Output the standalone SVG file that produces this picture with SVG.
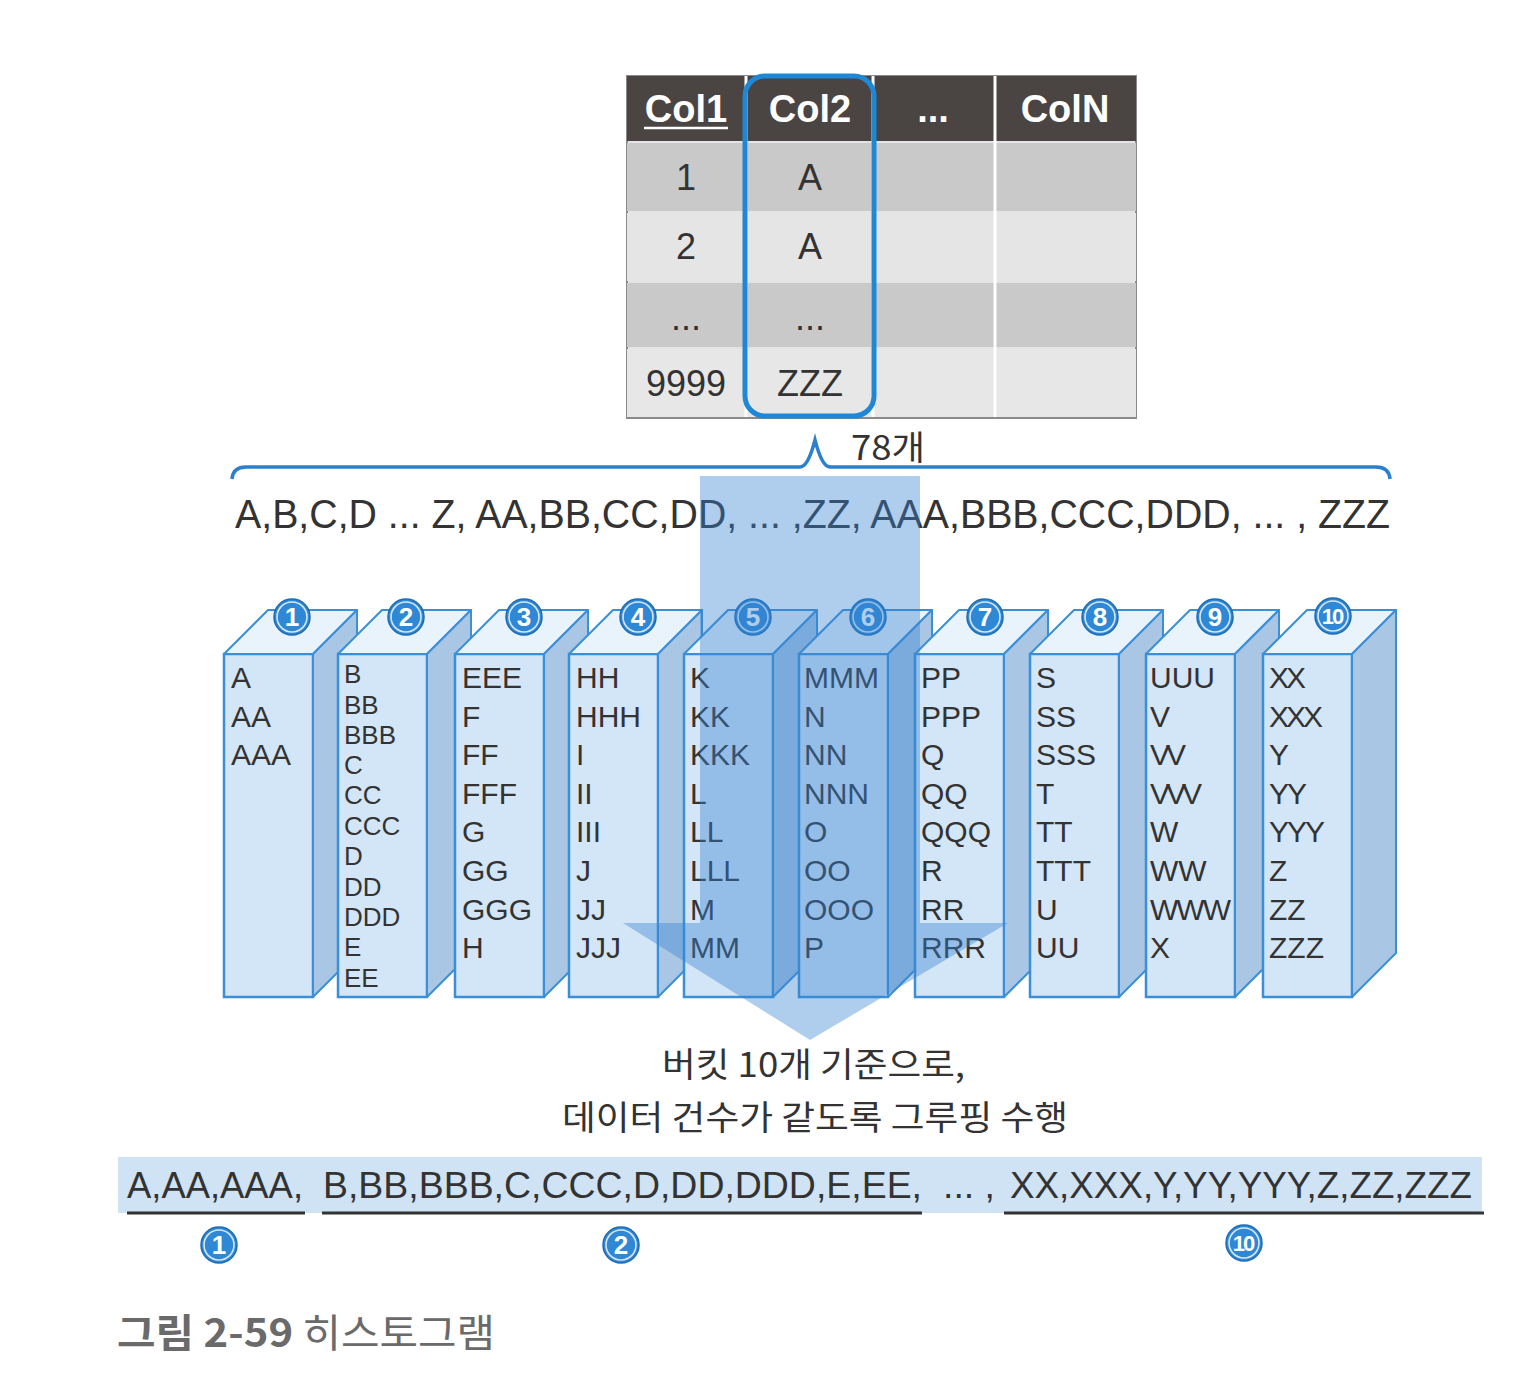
<svg xmlns="http://www.w3.org/2000/svg" width="1532" height="1374" viewBox="0 0 1532 1374">
<style>
.front{fill:#d3e6f7;stroke:#3b8fd8;stroke-width:2.5}
.top{fill:#e9f3fc;stroke:#3b8fd8;stroke-width:2;stroke-linejoin:round}
.side{fill:#a9c6e4;stroke:#3b8fd8;stroke-width:2;stroke-linejoin:round}
.bt{font-family:"Liberation Sans",Arial,sans-serif;font-size:30px;fill:#333}
.bs{font-family:"Liberation Sans",Arial,sans-serif;font-size:26px;fill:#333}
.num{font-family:"Liberation Sans",Arial,sans-serif;font-size:26px;font-weight:bold;fill:#fff;text-anchor:middle}
.num10{font-family:"Liberation Sans",Arial,sans-serif;font-size:22px;font-weight:bold;fill:#fff;text-anchor:middle;letter-spacing:-2px}
.cb{fill:#2f88d5;stroke:#1e6db4;stroke-width:1.5}
.cr{fill:none;stroke:#fff;stroke-width:1.6;stroke-opacity:0.8}
.hd{font-family:"Liberation Sans",Arial,sans-serif;font-size:38px;font-weight:bold;fill:#fff;text-anchor:middle}
.td{font-family:"Liberation Sans",Arial,sans-serif;font-size:36px;fill:#333;text-anchor:middle}
.kr{font-family:"Noto Sans CJK KR","Noto Sans",sans-serif;fill:#333}
.seq{font-family:"Liberation Sans",Arial,sans-serif;fill:#333}
</style>
<defs>
<g id="bucket">
<rect class="front" x="224" y="654" width="89" height="343"/>
<polygon class="top" points="224,654 268,610 357,610 313,654"/>
<polygon class="side" points="313,654 357,610 357,953 313,997"/>
</g>
<g id="badge">
<circle class="cb" cx="0" cy="0" r="18"/>
<circle class="cr" cx="0" cy="0" r="15"/>
</g>
</defs>
<rect width="1532" height="1374" fill="#fff"/>

<!-- Table -->
<g id="table">
<rect x="627" y="76" width="509" height="342" fill="#e4e4e4" stroke="#8a8a8a" stroke-width="2"/>
<rect x="627" y="76" width="509" height="65" fill="#4a4443"/>
<rect x="627" y="143" width="509" height="68" fill="#c9c9c9"/>
<rect x="627" y="213" width="509" height="68" fill="#e5e5e5"/>
<rect x="627" y="283" width="509" height="64" fill="#c9c9c9"/>
<rect x="627" y="349" width="509" height="68" fill="#e7e7e7"/>
<g stroke="#fff" stroke-width="3">
<line x1="746" y1="76" x2="746" y2="417"/>
<line x1="873" y1="76" x2="873" y2="417"/>
<line x1="995" y1="76" x2="995" y2="417"/>
</g>
<text class="hd" x="686" y="122">Col1</text>
<line x1="644" y1="128" x2="728" y2="128" stroke="#fff" stroke-width="2.5"/>
<text class="hd" x="810" y="122">Col2</text>
<text class="hd" x="933" y="122">...</text>
<text class="hd" x="1065" y="122">ColN</text>
<text class="td" x="686" y="190">1</text>
<text class="td" x="810" y="190">A</text>
<text class="td" x="686" y="259">2</text>
<text class="td" x="810" y="259">A</text>
<text class="td" x="686" y="330" font-size="26">...</text>
<text class="td" x="810" y="330" font-size="26">...</text>
<text class="td" x="686" y="396">9999</text>
<text class="td" x="810" y="396">ZZZ</text>
<rect x="745" y="76" width="129" height="340" rx="20" fill="none" stroke="#1e87d6" stroke-width="5"/>
</g>

<!-- Brace and sequence -->
<g id="brace">
<path d="M232,479 Q233,467 246,467 L800,467 Q808,467 815,440 Q822,467 830,467 L1376,467 Q1389,467 1390,479" fill="none" stroke="#2a7fcf" stroke-width="3.5"/>
<text class="kr" x="851" y="460" font-size="34" textLength="74" lengthAdjust="spacingAndGlyphs">78개</text>
</g>
<g id="sequence">
<text class="seq" x="235" y="528" font-size="41" textLength="1155" lengthAdjust="spacingAndGlyphs">A,B,C,D ... Z, AA,BB,CC,DD, ... ,ZZ, AAA,BBB,CCC,DDD, ... , ZZZ</text>
</g>

<!-- Buckets -->
<g id="bucket1">
<use href="#bucket"/>
<use href="#badge" x="292" y="617"/><text class="num" x="292" y="626">1</text>
<text class="bt" x="231" y="688">A</text>
<text class="bt" x="231" y="727">AA</text>
<text class="bt" x="231" y="765">AAA</text>
</g>
<g id="bucket2">
<use href="#bucket" transform="translate(114,0)"/>
<use href="#badge" x="406" y="617"/><text class="num" x="406" y="626">2</text>
<text class="bs" x="344" y="683">B</text>
<text class="bs" x="344" y="714">BB</text>
<text class="bs" x="344" y="744">BBB</text>
<text class="bs" x="344" y="774">C</text>
<text class="bs" x="344" y="804">CC</text>
<text class="bs" x="344" y="835">CCC</text>
<text class="bs" x="344" y="865">D</text>
<text class="bs" x="344" y="896">DD</text>
<text class="bs" x="344" y="926">DDD</text>
<text class="bs" x="344" y="956">E</text>
<text class="bs" x="344" y="987">EE</text>
</g>
<g id="bucket3">
<use href="#bucket" transform="translate(231,0)"/>
<use href="#badge" x="524" y="617"/><text class="num" x="524" y="626">3</text>
<text class="bt" x="462" y="688">EEE</text>
<text class="bt" x="462" y="727">F</text>
<text class="bt" x="462" y="765">FF</text>
<text class="bt" x="462" y="804">FFF</text>
<text class="bt" x="462" y="842">G</text>
<text class="bt" x="462" y="881">GG</text>
<text class="bt" x="462" y="920">GGG</text>
<text class="bt" x="462" y="958">H</text>
</g>
<g id="bucket4">
<use href="#bucket" transform="translate(345,0)"/>
<use href="#badge" x="638" y="617"/><text class="num" x="638" y="626">4</text>
<text class="bt" x="576" y="688">HH</text>
<text class="bt" x="576" y="727">HHH</text>
<text class="bt" x="576" y="765">I</text>
<text class="bt" x="576" y="804">II</text>
<text class="bt" x="576" y="842">III</text>
<text class="bt" x="576" y="881">J</text>
<text class="bt" x="576" y="920">JJ</text>
<text class="bt" x="576" y="958">JJJ</text>
</g>
<g id="bucket5">
<use href="#bucket" transform="translate(460,0)"/>
<use href="#badge" x="753" y="617"/><text class="num" x="753" y="626">5</text>
<text class="bt" x="690" y="688">K</text>
<text class="bt" x="690" y="727">KK</text>
<text class="bt" x="690" y="765">KKK</text>
<text class="bt" x="690" y="804">L</text>
<text class="bt" x="690" y="842">LL</text>
<text class="bt" x="690" y="881">LLL</text>
<text class="bt" x="690" y="920">M</text>
<text class="bt" x="690" y="958">MM</text>
</g>
<g id="bucket6">
<use href="#bucket" transform="translate(575,0)"/>
<use href="#badge" x="868" y="617"/><text class="num" x="868" y="626">6</text>
<text class="bt" x="804" y="688">MMM</text>
<text class="bt" x="804" y="727">N</text>
<text class="bt" x="804" y="765">NN</text>
<text class="bt" x="804" y="804">NNN</text>
<text class="bt" x="804" y="842">O</text>
<text class="bt" x="804" y="881">OO</text>
<text class="bt" x="804" y="920">OOO</text>
<text class="bt" x="804" y="958">P</text>
</g>
<g id="bucket7">
<use href="#bucket" transform="translate(691,0)"/>
<use href="#badge" x="985" y="617"/><text class="num" x="985" y="626">7</text>
<text class="bt" x="921" y="688">PP</text>
<text class="bt" x="921" y="727">PPP</text>
<text class="bt" x="921" y="765">Q</text>
<text class="bt" x="921" y="804">QQ</text>
<text class="bt" x="921" y="842">QQQ</text>
<text class="bt" x="921" y="881">R</text>
<text class="bt" x="921" y="920">RR</text>
<text class="bt" x="921" y="958">RRR</text>
</g>
<g id="bucket8">
<use href="#bucket" transform="translate(806,0)"/>
<use href="#badge" x="1100" y="617"/><text class="num" x="1100" y="626">8</text>
<text class="bt" x="1036" y="688">S</text>
<text class="bt" x="1036" y="727">SS</text>
<text class="bt" x="1036" y="765">SSS</text>
<text class="bt" x="1036" y="804">T</text>
<text class="bt" x="1036" y="842">TT</text>
<text class="bt" x="1036" y="881">TTT</text>
<text class="bt" x="1036" y="920">U</text>
<text class="bt" x="1036" y="958">UU</text>
</g>
<g id="bucket9">
<use href="#bucket" transform="translate(922,0)"/>
<use href="#badge" x="1215" y="617"/><text class="num" x="1215" y="626">9</text>
<text class="bt" x="1150" y="688">UUU</text>
<text class="bt" x="1150" y="727">V</text>
<text class="bt" x="1150" y="765" letter-spacing="-4">VV</text>
<text class="bt" x="1150" y="804" letter-spacing="-4">VVV</text>
<text class="bt" x="1150" y="842">W</text>
<text class="bt" x="1150" y="881">WW</text>
<text class="bt" x="1150" y="920" letter-spacing="-2">WWW</text>
<text class="bt" x="1150" y="958">X</text>
</g>
<g id="bucket10">
<use href="#bucket" transform="translate(1039,0)"/>
<use href="#badge" x="1333" y="616"/><text class="num10" x="1332" y="624">10</text>
<text class="bt" x="1269" y="688" letter-spacing="-3">XX</text>
<text class="bt" x="1269" y="727" letter-spacing="-3">XXX</text>
<text class="bt" x="1269" y="765">Y</text>
<text class="bt" x="1269" y="804" letter-spacing="-2">YY</text>
<text class="bt" x="1269" y="842" letter-spacing="-2">YYY</text>
<text class="bt" x="1269" y="881">Z</text>
<text class="bt" x="1269" y="920">ZZ</text>
<text class="bt" x="1269" y="958">ZZZ</text>
</g>

<!-- Big arrow -->
<g id="connectors">
<polygon points="700,476 920,476 920,923 1008,923 810,1040 623,923 700,923" fill="#3683d0" fill-opacity="0.4"/>
</g>

<!-- Caption text -->
<g id="description">
<text class="kr" x="662" y="1077" font-size="34" textLength="303" lengthAdjust="spacingAndGlyphs">버킷 10개 기준으로,</text>
<text class="kr" x="562" y="1130" font-size="34" textLength="506" lengthAdjust="spacingAndGlyphs">데이터 건수가 같도록 그루핑 수행</text>
</g>

<!-- Bottom band -->
<g id="result">
<rect x="118" y="1157" width="1364" height="56" fill="#cfe3f5"/>
<text class="seq" x="127" y="1198" font-size="36" textLength="176" lengthAdjust="spacingAndGlyphs">A,AA,AAA,</text>
<text class="seq" x="323" y="1198" font-size="36" textLength="599" lengthAdjust="spacingAndGlyphs">B,BB,BBB,C,CCC,D,DD,DDD,E,EE,</text>
<text class="seq" x="943" y="1198" font-size="36" textLength="52" lengthAdjust="spacingAndGlyphs">... ,</text>
<text class="seq" x="1010" y="1198" font-size="36" textLength="462" lengthAdjust="spacingAndGlyphs">XX,XXX,Y,YY,YYY,Z,ZZ,ZZZ</text>
<g stroke="#333" stroke-width="3">
<line x1="127" y1="1213" x2="305" y2="1213"/>
<line x1="322" y1="1213" x2="922" y2="1213"/>
<line x1="1004" y1="1213" x2="1484" y2="1213"/>
</g>
<use href="#badge" x="219" y="1245"/><text class="num" x="219" y="1254">1</text>
<use href="#badge" x="621" y="1245"/><text class="num" x="621" y="1254">2</text>
<use href="#badge" x="1244" y="1243"/><text class="num10" x="1243" y="1251">10</text>
</g>

<g id="caption">
<text x="117" y="1347" font-family="'Noto Sans CJK KR','Noto Sans',sans-serif" font-size="39" fill="#6a6a6a" textLength="378" lengthAdjust="spacingAndGlyphs"><tspan font-weight="bold">그림 2-59</tspan> 히스토그램</text>
</g>
</svg>
